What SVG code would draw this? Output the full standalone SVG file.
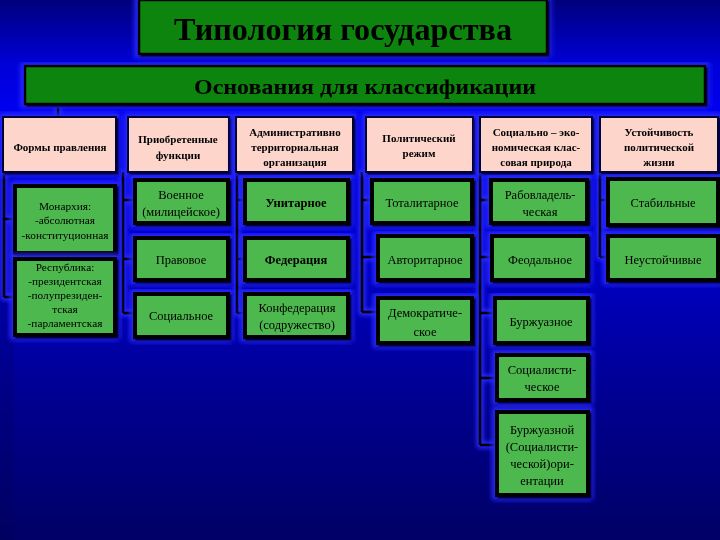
<svg xmlns="http://www.w3.org/2000/svg" width="720" height="540" viewBox="0 0 720 540">
<defs>
<linearGradient id="bg" x1="0" y1="0" x2="0" y2="1">
<stop offset="0" stop-color="#00007c"/>
<stop offset="0.12" stop-color="#0000d8"/>
<stop offset="0.2" stop-color="#0000ee"/>
<stop offset="0.45" stop-color="#0000cc"/>
<stop offset="0.75" stop-color="#00008e"/>
<stop offset="1" stop-color="#000066"/>
</linearGradient>
<filter id="halo" x="-20%" y="-20%" width="140%" height="140%">
<feMorphology in="SourceAlpha" operator="dilate" radius="2" result="d"/>
<feGaussianBlur in="d" stdDeviation="2" result="b"/>
<feFlood flood-color="#2a2aff"/>
<feComposite in2="b" operator="in" result="g"/>
<feMerge><feMergeNode in="g"/><feMergeNode in="SourceGraphic"/></feMerge>
</filter>
<filter id="shadow" x="-10%" y="-10%" width="130%" height="130%">
<feOffset in="SourceAlpha" dx="2" dy="2" result="o"/>
<feGaussianBlur in="o" stdDeviation="1" result="ob"/>
<feFlood flood-color="#000022"/>
<feComposite in2="ob" operator="in" result="s"/>
<feMorphology in="SourceAlpha" operator="dilate" radius="3" result="d"/>
<feGaussianBlur in="d" stdDeviation="2.5" result="db"/>
<feFlood flood-color="#2a2aff"/>
<feComposite in2="db" operator="in" result="g"/>
<feMerge><feMergeNode in="g"/><feMergeNode in="s"/><feMergeNode in="SourceGraphic"/></feMerge>
</filter>
</defs>
<style>
text{font-family:"Liberation Serif","Times New Roman",serif;fill:#000;text-anchor:middle}
.title{fill:#0a840a;stroke:#000;stroke-width:2.5}
.head{fill:#fdd5cb;stroke:#000033;stroke-width:2}
.leaf{fill:#4db84d;stroke:#000;stroke-width:4}
.ht{font-size:11px;font-weight:bold}
.lt{font-size:12.5px}
.st{font-size:11.3px}
.b{font-weight:bold}
.conn path{fill:none;stroke:#000;stroke-width:3}
</style>
<rect width="720" height="540" fill="url(#bg)"/>
<rect x="0" y="150" width="14" height="390" fill="#000050" opacity="0.2"/>

<g class="conn" filter="url(#halo)">
<path d="M58,104 V117"/>
<path d="M4,172 V297 M4,219 H15 M4,297 H15"/>
<path d="M123,172 V313 M123,200 H135 M123,259 H135 M123,313 H135"/>
<path d="M237,172 V313 M237,200 H245 M237,259 H245 M237,313 H245"/>
<path d="M362,172 V312 M362,200 H372 M362,257 H378 M362,312 H378"/>
<path d="M480,172 V445 M480,200 H491 M480,257 H492 M480,313 H495 M480,378 H497 M480,445 H497"/>
<path d="M600,172 V257 M600,200 H608 M600,257 H608"/>
</g>

<g id="title" filter="url(#shadow)">
<rect class="title" x="139" y="0" width="408" height="54"/>
<text x="343" y="40" font-size="31" font-weight="bold" textLength="338" lengthAdjust="spacingAndGlyphs">Типология государства</text>
</g>
<g id="osnovania" filter="url(#shadow)">
<rect class="title" x="25" y="66" width="680" height="38"/>
<text x="365" y="94" font-size="21" font-weight="bold" textLength="342" lengthAdjust="spacingAndGlyphs">Основания для классификации</text>
</g>

<g id="h1" filter="url(#shadow)"><rect class="head" x="3" y="117" width="113" height="55"/>
<text class="ht" x="60" y="151">Формы правления</text></g>
<g id="h2" filter="url(#shadow)"><rect class="head" x="128" y="117" width="101" height="55"/>
<text class="ht" x="178" y="143">Приобретенные</text><text class="ht" x="178" y="159">функции</text></g>
<g id="h3" filter="url(#shadow)"><rect class="head" x="236" y="117" width="117" height="55"/>
<text class="ht" x="295" y="136">Административно</text><text class="ht" x="295" y="151">территориальная</text><text class="ht" x="295" y="166">организация</text></g>
<g id="h4" filter="url(#shadow)"><rect class="head" x="366" y="117" width="107" height="55"/>
<text class="ht" x="419" y="142">Политический</text><text class="ht" x="419" y="157">режим</text></g>
<g id="h5" filter="url(#shadow)"><rect class="head" x="480" y="117" width="112" height="55"/>
<text class="ht" x="536" y="136">Социально – эко-</text><text class="ht" x="536" y="151">номическая клас-</text><text class="ht" x="536" y="166">совая природа</text></g>
<g id="h6" filter="url(#shadow)"><rect class="head" x="600" y="117" width="118" height="55"/>
<text class="ht" x="659" y="136">Устойчивость</text><text class="ht" x="659" y="151">политической</text><text class="ht" x="659" y="166">жизни</text></g>

<g id="monarchy" filter="url(#shadow)"><rect class="leaf" x="15" y="186" width="100" height="67"/>
<text class="st" x="65" y="210">Монархия:</text><text class="st" x="65" y="224">-абсолютная</text><text class="st" x="65" y="239">-конституционная</text></g>
<g id="republic" filter="url(#shadow)"><rect class="leaf" x="15" y="259" width="100" height="76"/>
<text class="st" x="65" y="271">Республика:</text><text class="st" x="65" y="285">-президентская</text><text class="st" x="65" y="299">-полупрезиден-</text><text class="st" x="65" y="313">тская</text><text class="st" x="65" y="327">-парламентская</text></g>

<g id="voennoe" filter="url(#shadow)"><rect class="leaf" x="135" y="180" width="93" height="43"/>
<text class="lt" x="181" y="199">Военное</text><text class="lt" x="181" y="216">(милицейское)</text></g>
<g id="pravovoe" filter="url(#shadow)"><rect class="leaf" x="135" y="238" width="93" height="42"/>
<text class="lt" x="181" y="264">Правовое</text></g>
<g id="socialnoe" filter="url(#shadow)"><rect class="leaf" x="135" y="294" width="93" height="43"/>
<text class="lt" x="181" y="320">Социальное</text></g>

<g id="unitarnoe" filter="url(#shadow)"><rect class="leaf" x="245" y="180" width="103" height="43"/>
<text class="lt b" x="296" y="207">Унитарное</text></g>
<g id="federacia" filter="url(#shadow)"><rect class="leaf" x="245" y="238" width="103" height="42"/>
<text class="lt b" x="296" y="264">Федерация</text></g>
<g id="konfederacia" filter="url(#shadow)"><rect class="leaf" x="245" y="294" width="103" height="43"/>
<text class="lt" x="297" y="312">Конфедерация</text><text class="lt" x="297" y="329">(содружество)</text></g>

<g id="totalitarnoe" filter="url(#shadow)"><rect class="leaf" x="372" y="180" width="100" height="43"/>
<text class="lt" x="422" y="207">Тоталитарное</text></g>
<g id="avtoritarnoe" filter="url(#shadow)"><rect class="leaf" x="378" y="236" width="94" height="44"/>
<text class="lt" x="425" y="264">Авторитарное</text></g>
<g id="demokraticheskoe" filter="url(#shadow)"><rect class="leaf" x="378" y="298" width="94" height="45"/>
<text class="lt" x="425" y="317">Демократиче-</text><text class="lt" x="425" y="336">ское</text></g>

<g id="rabovladel" filter="url(#shadow)"><rect class="leaf" x="491" y="180" width="96" height="43"/>
<text class="lt" x="540" y="199">Рабовладель-</text><text class="lt" x="540" y="216">ческая</text></g>
<g id="feodalnoe" filter="url(#shadow)"><rect class="leaf" x="492" y="236" width="95" height="44"/>
<text class="lt" x="540" y="264">Феодальное</text></g>
<g id="burzhuaznoe" filter="url(#shadow)"><rect class="leaf" x="495" y="298" width="93" height="45"/>
<text class="lt" x="541" y="326">Буржуазное</text></g>
<g id="socialisticheskoe" filter="url(#shadow)"><rect class="leaf" x="497" y="355" width="91" height="45"/>
<text class="lt" x="542" y="374">Социалисти-</text><text class="lt" x="542" y="391">ческое</text></g>
<g id="orientacii" filter="url(#shadow)"><rect class="leaf" x="497" y="412" width="91" height="83"/>
<text class="lt" x="542" y="434">Буржуазной</text><text class="lt" x="542" y="451">(Социалисти-</text><text class="lt" x="542" y="468">ческой)ори-</text><text class="lt" x="542" y="485">ентации</text></g>

<g id="stabilnye" filter="url(#shadow)"><rect class="leaf" x="608" y="179" width="110" height="46"/>
<text class="lt" x="663" y="207">Стабильные</text></g>
<g id="neustoichivye" filter="url(#shadow)"><rect class="leaf" x="608" y="236" width="110" height="44"/>
<text class="lt" x="663" y="264">Неустойчивые</text></g>
</svg>
